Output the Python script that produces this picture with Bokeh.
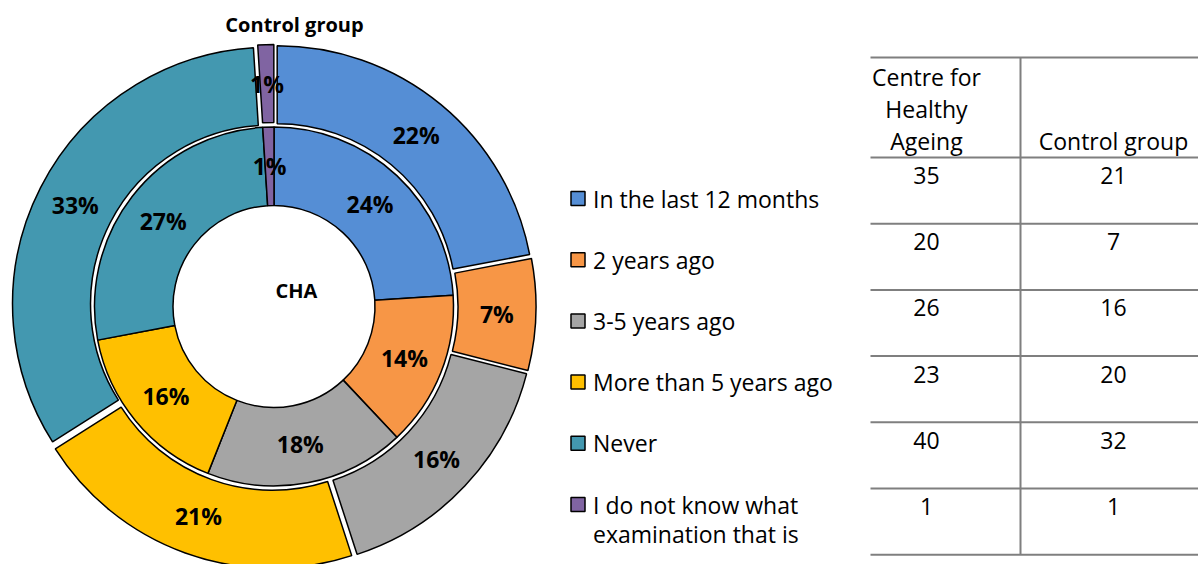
import math
from bokeh.plotting import figure
from bokeh.models import Range1d
from bokeh.core.properties import value
from bokeh.embed import file_html
from bokeh.resources import INLINE

# ---------------- data ----------------
categories = ["In the last 12 months", "2 years ago", "3-5 years ago",
              "More than 5 years ago", "Never",
              "I do not know what\nexamination that is"]
colors = ["#558ED5", "#F79646", "#A5A5A5", "#FFC000", "#4398B0", "#8064A2"]
cha_pct = [24, 14, 18, 16, 27, 1]          # inner ring (CHA)
control_pct = [22, 7, 16, 21, 33, 1]       # outer ring (Control group)
table_headers = ["Centre for\nHealthy\nAgeing", "Control group"]
cha_counts = [35, 20, 26, 23, 40, 1]
control_counts = [21, 7, 16, 20, 32, 1]

# ---------------- layout ----------------
W, H = 1198, 564
FONT = value("Open Sans")


def Y(py):
    return H - py


p = figure(width=W, height=H, x_range=Range1d(0, W), y_range=Range1d(0, H),
           output_backend="svg", toolbar_location=None, min_border=0)
p.axis.visible = False
p.grid.visible = False
p.outline_line_color = None
p.background_fill_color = "white"
p.border_fill_color = "white"

CX, CY = 273.5, Y(306)


def ring(vals, rin, rout, explode):
    total = float(sum(vals))
    xs, ys, a0, a1, lx, ly = [], [], [], [], [], []
    cum = 0.0
    for v in vals:
        f0 = cum / total
        f1 = (cum + v) / total
        cum += v
        mid = (f0 + f1) / 2 * 2 * math.pi
        ox = CX + explode * math.sin(mid)
        oy = CY + explode * math.cos(mid)
        xs.append(ox)
        ys.append(oy)
        a0.append(math.pi / 2 - 2 * math.pi * f0)
        a1.append(math.pi / 2 - 2 * math.pi * f1)
        rl = (rin + rout) / 2
        lx.append(ox + rl * math.sin(mid))
        ly.append(oy + rl * math.cos(mid))
    return xs, ys, a0, a1, lx, ly


# outer ring (control group, exploded)
xs, ys, a0, a1, olx, oly = ring(control_pct, 179, 257, 5)
p.annular_wedge(x=xs, y=ys, inner_radius=179, outer_radius=257,
                start_angle=a0, end_angle=a1, direction="clock",
                fill_color=colors, line_color="black", line_width=1.5)
# inner ring (CHA)
xs, ys, a0, a1, ilx, ily = ring(cha_pct, 101, 179.5, 0)
p.annular_wedge(x=xs, y=ys, inner_radius=101, outer_radius=179.5,
                start_angle=a0, end_angle=a1, direction="clock",
                fill_color=colors, line_color="black", line_width=1.5)

p.text(x=olx, y=oly, text=[f"{v}%" for v in control_pct], text_font=FONT,
       text_font_style="bold", text_font_size="23px", text_color="black",
       text_align="center", text_baseline="middle")
p.text(x=ilx, y=ily, text=[f"{v}%" for v in cha_pct], text_font=FONT,
       text_font_style="bold", text_font_size="23px", text_color="black",
       text_align="center", text_baseline="middle")

# titles
p.text(x=[294], y=[Y(24)], text=["Control group"], text_font=FONT,
       text_font_style="bold", text_font_size="20px", text_color="black",
       text_align="center", text_baseline="middle")
p.text(x=[296], y=[Y(290)], text=["CHA"], text_font=FONT,
       text_font_style="bold", text_font_size="20px", text_color="black",
       text_align="center", text_baseline="middle")

# ---------------- legend ----------------
LEG_X, LEG_Y0, LEG_DY, LINE_DY = 577.5, 198, 61.2, 29
sq_y, tx, ty, tt = [], [], [], []
for i, lab in enumerate(categories):
    yc = LEG_Y0 + i * LEG_DY
    sq_y.append(Y(yc))
    for k, line in enumerate(lab.split("\n")):
        tx.append(LEG_X + 15)
        ty.append(Y(yc + k * LINE_DY))
        tt.append(line)
p.rect(x=[LEG_X] * len(categories), y=sq_y, width=14, height=14,
       fill_color=colors, line_color="black", line_width=1.5)
p.text(x=tx, y=ty, text=tt, text_font=FONT, text_font_size="23px",
       text_color="black", text_align="left", text_baseline="middle")

# ---------------- table ----------------
T_LEFT, T_RIGHT, T_MID = 870, W, 1020
T_TOP, T_HEAD, ROW_H = 57, 157, 66.2
COL_X = [926, 1113]
n = len(cha_counts)
row_edges = [T_TOP, T_HEAD] + [T_HEAD + (i + 1) * ROW_H for i in range(n)]
p.segment(x0=[T_LEFT] * len(row_edges), x1=[T_RIGHT] * len(row_edges),
          y0=[Y(e) for e in row_edges], y1=[Y(e) for e in row_edges],
          line_color="#7F7F7F", line_width=2)
p.segment(x0=[T_MID], x1=[T_MID], y0=[Y(T_TOP)], y1=[Y(row_edges[-1])],
          line_color="#7F7F7F", line_width=2)

hx, hy, ht = [], [], []
for cx, hdr in zip(COL_X, table_headers):
    lines = hdr.split("\n")
    for k, line in enumerate(lines):
        hx.append(cx)
        hy.append(Y(140 - (len(lines) - 1 - k) * 31.7))
        ht.append(line)
p.text(x=hx, y=hy, text=ht, text_font=FONT, text_font_size="23px",
       text_color="black", text_align="center", text_baseline="middle")

vx, vy, vt = [], [], []
for i in range(n):
    yc = T_HEAD + i * ROW_H + 18
    for cx, col in zip(COL_X, [cha_counts, control_counts]):
        vx.append(cx)
        vy.append(Y(yc))
        vt.append(str(col[i]))
p.text(x=vx, y=vy, text=vt, text_font=FONT, text_font_size="23px",
       text_color="black", text_align="center", text_baseline="middle")

open("out.html", "w").write(file_html(p, INLINE))
